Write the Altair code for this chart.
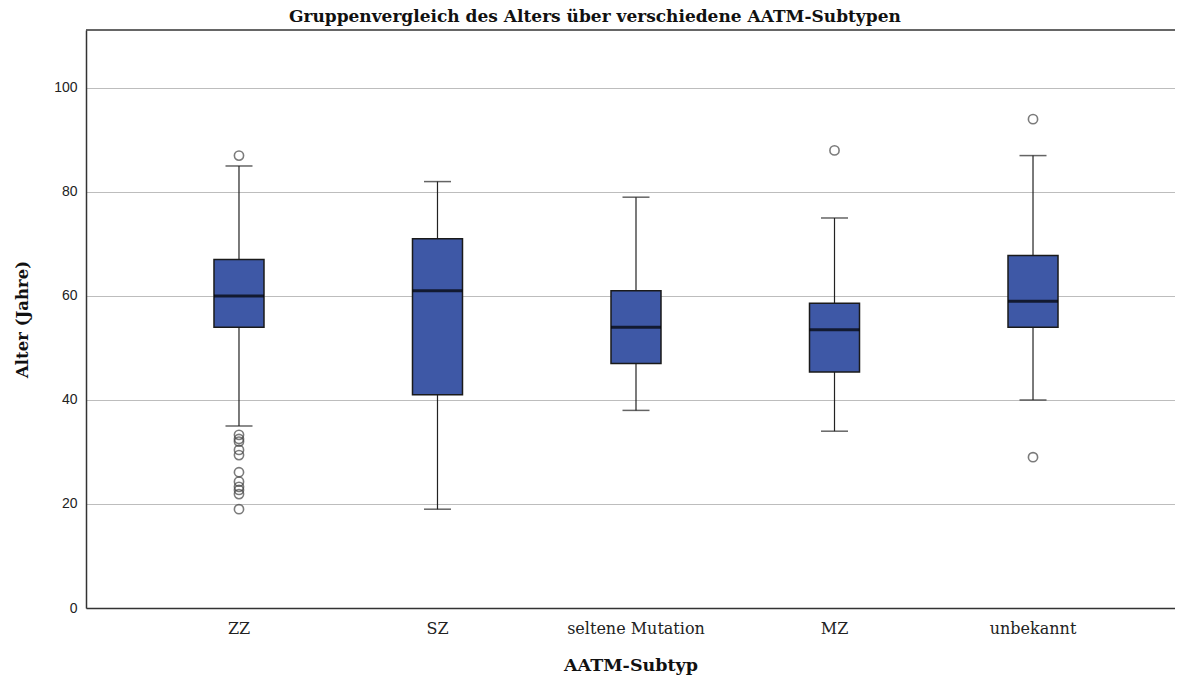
import altair as alt
import pandas as pd

categories = ["ZZ", "SZ", "seltene Mutation", "MZ", "unbekannt"]
whisker_low = [35, 19, 38, 34, 40]
q1 = [54, 41, 47, 45.4, 54]
median = [60, 61, 54, 53.5, 59]
q3 = [67, 71, 61, 58.6, 67.8]
whisker_high = [85, 82, 79, 75, 87]

outlier_cat = ["ZZ"] * 12 + ["MZ"] + ["unbekannt"] * 2
outlier_val = [87, 33.3, 32.5, 32, 30.4, 29.4, 26.1, 24.3, 23.3, 22.7, 21.9, 19,
               88,
               94, 29]

y_ticks = [0, 20, 40, 60, 80, 100]

box_df = pd.DataFrame({"cat": categories, "lo": whisker_low, "q1": q1,
                       "med": median, "q3": q3, "hi": whisker_high})
out_df = pd.DataFrame({"cat": outlier_cat, "val": outlier_val})

serif = "DejaVu Serif"
sans = "Liberation Sans"
W, H = 1089, 578

xscale = alt.Scale(domain=categories, paddingInner=0, paddingOuter=0.243, align=0.557)
yscale = alt.Scale(domain=[0, 111.15], nice=False, zero=False)

xenc = alt.X("cat:N", sort=categories, scale=xscale,
             axis=alt.Axis(title="AATM-Subtyp", labelAngle=0, ticks=False,
                           domain=True, domainColor="#333333", domainWidth=1.5,
                           labelFont=serif, labelFontSize=16, labelColor="#222222",
                           labelPadding=12, titleFont=serif, titleFontSize=17.5,
                           titleFontWeight="bold", titleColor="#111111",
                           titlePadding=20))

yaxis = alt.Axis(title="Alter (Jahre)", values=y_ticks, grid=True,
                 gridColor="#bdbdbd", gridWidth=1, ticks=False, domain=True,
                 domainColor="#333333", domainWidth=1.5, labelFont=sans,
                 labelFontSize=14, labelColor="#222222", labelPadding=9,
                 titleFont=serif, titleFontSize=16.5, titleFontWeight="bold",
                 titleColor="#111111", titleX=-64, titleY=H / 2,
                 titleAngle=270, titleAlign="center", titleBaseline="middle")

base = alt.Chart(box_df).encode(x=xenc)

whisker = base.mark_rule(color="#222222", strokeWidth=1.2).encode(
    y=alt.Y("lo:Q", scale=yscale, axis=yaxis), y2="hi:Q")
cap_lo = base.mark_tick(color="#222222", size=27, thickness=1.5).encode(
    y=alt.Y("lo:Q", scale=yscale))
cap_hi = base.mark_tick(color="#222222", size=27, thickness=1.5).encode(
    y=alt.Y("hi:Q", scale=yscale))
box = base.mark_bar(size=50, color="#3e58a6", stroke="#1a1a1a", strokeWidth=1.5).encode(
    y=alt.Y("q1:Q", scale=yscale), y2="q3:Q")
med = base.mark_tick(color="#000000", size=50, thickness=3).encode(
    y=alt.Y("med:Q", scale=yscale))
outl = alt.Chart(out_df).mark_point(shape="circle", filled=False, size=85,
                                    stroke="#444444", strokeWidth=1.6).encode(
    x=alt.X("cat:N", sort=categories, scale=xscale),
    y=alt.Y("val:Q", scale=yscale))
top = alt.Chart(pd.DataFrame({"a": [0]})).mark_rule(color="#333333", strokeWidth=1.5).encode(
    y=alt.value(0))

chart = alt.layer(whisker, cap_lo, cap_hi, box, med, outl, top).properties(
    width=W, height=H,
    background="white",
    title=alt.TitleParams("Gruppenvergleich des Alters über verschiedene AATM-Subtypen",
                          font=serif, fontSize=17, fontWeight="bold", color="#111111",
                          anchor="middle", frame="bounds", baseline="bottom",
                          offset=-14),
    autosize=alt.AutoSizeParams(type="none"),
    padding={"left": 78, "top": 22, "right": 0, "bottom": 70},
).configure_view(stroke="#ffffff", strokeOpacity=0, strokeWidth=0)

chart.save("out.html", embed_options={"renderer": "svg", "actions": False})
